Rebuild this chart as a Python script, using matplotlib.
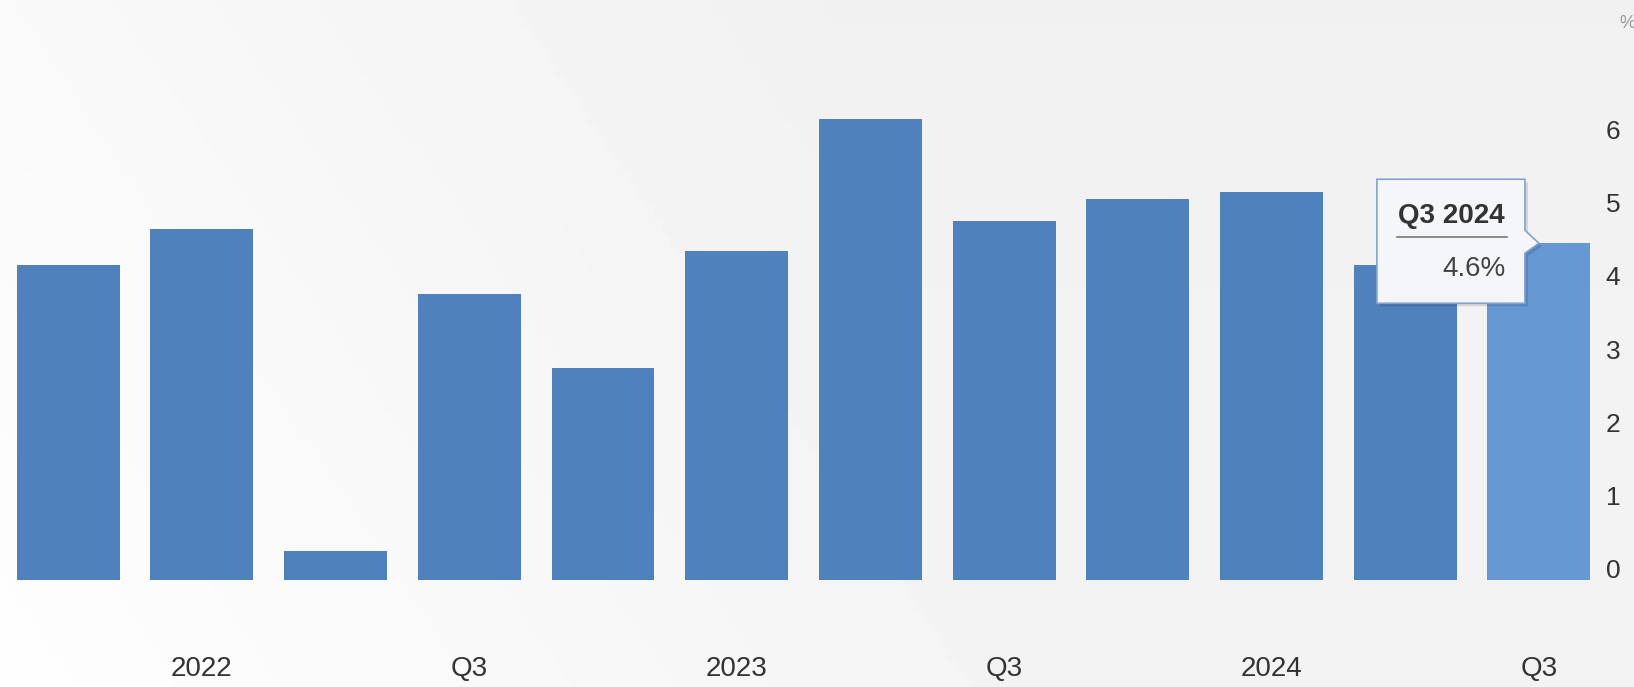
import numpy as np
import matplotlib
matplotlib.use("Agg")
import matplotlib.pyplot as plt
from matplotlib.patches import Polygon
from matplotlib.transforms import ScaledTranslation

plt.rcParams['font.family'] = ['Liberation Sans', 'DejaVu Sans']

# quarterly values, Q1 2022 .. Q3 2024 (%)
quarters = ['Q1 2022', 'Q2 2022', 'Q3 2022', 'Q4 2022',
            'Q1 2023', 'Q2 2023', 'Q3 2023', 'Q4 2023',
            'Q1 2024', 'Q2 2024', 'Q3 2024', 'Q4 2024']
values = [4.3, 4.8, 0.4, 3.9, 2.9, 4.5, 6.3, 4.9, 5.2, 5.3, 4.3, 4.6]
x_labels = ['2022', 'Q3', '2023', 'Q3', '2024', 'Q3']
x_label_pos = [1, 3, 5, 7, 9, 11]
y_ticks = [0, 1, 2, 3, 4, 5, 6]
tooltip_title = 'Q3 2024'
tooltip_value = '4.6%'

bar_color = '#4f81bd'
last_color = '#6699d4'

fig = plt.figure(figsize=(16.34, 6.87), dpi=100)
fig.patch.set_facecolor('#f5f5f6')
ax = fig.add_axes([0, 0, 1, 1])
ax.set_xlim(-0.51, 11.711)
ax.set_ylim(-1.462, 7.923)
ax.axis('off')

# faint background wash
gx, gy = np.meshgrid(np.linspace(0, 1, 200), np.linspace(0, 1, 100))
bg = 0.945 + 0.04 * np.clip(1 - gx * 1.6 - (1 - gy) * 0.2, 0, 1) + 0.01 * gy
ax.imshow(bg, cmap='gray', vmin=0, vmax=1, extent=[-0.51, 11.711, -1.462, 7.923],
          aspect='auto', zorder=0)

colors = [bar_color] * (len(values) - 1) + [last_color]
ax.bar(range(len(values)), values, width=0.77, color=colors, zorder=2)

for pos, lab in zip(x_label_pos, x_labels):
    ax.text(pos, -1.216, lab, ha='center', va='center', fontsize=20, color='#333333')

for t in y_ticks:
    ax.text(11.5, t + 0.12, str(t), ha='left', va='center', fontsize=19, color='#333333')
ax.text(11.6, 7.6, '%', ha='left', va='center', fontsize=13, color='#999999')

# tooltip anchored to the last bar
tip_x, tip_y = len(values) - 1, values[-1]
trans = fig.dpi_scale_trans + ScaledTranslation(tip_x, tip_y, ax.transData)
box = np.array([[-1.62, 0.64], [-0.14, 0.64], [-0.14, 0.13], [0.0, 0.0],
                [-0.14, -0.10], [-0.14, -0.60], [-1.62, -0.60]])
shadow = Polygon(box + [0.03, -0.03], closed=True, transform=trans,
                 facecolor='#000000', alpha=0.12, edgecolor='none', zorder=4)
ax.add_patch(shadow)
tip = Polygon(box, closed=True, transform=trans, facecolor='#f4f6f9',
              edgecolor='#7fa3d3', linewidth=1.2, zorder=5)
ax.add_patch(tip)
ax.plot([-1.42, -0.32], [0.06, 0.06], transform=trans, color='#777777', lw=1.2, zorder=6)
ax.text(-0.875, 0.27, tooltip_title, transform=trans, ha='center', va='center',
        fontsize=20, fontweight='bold', color='#333333', zorder=6)
ax.text(-0.33, -0.26, tooltip_value, transform=trans, ha='right', va='center',
        fontsize=20, color='#444444', zorder=6)

fig.savefig('out.png', dpi=100, facecolor=fig.get_facecolor())
